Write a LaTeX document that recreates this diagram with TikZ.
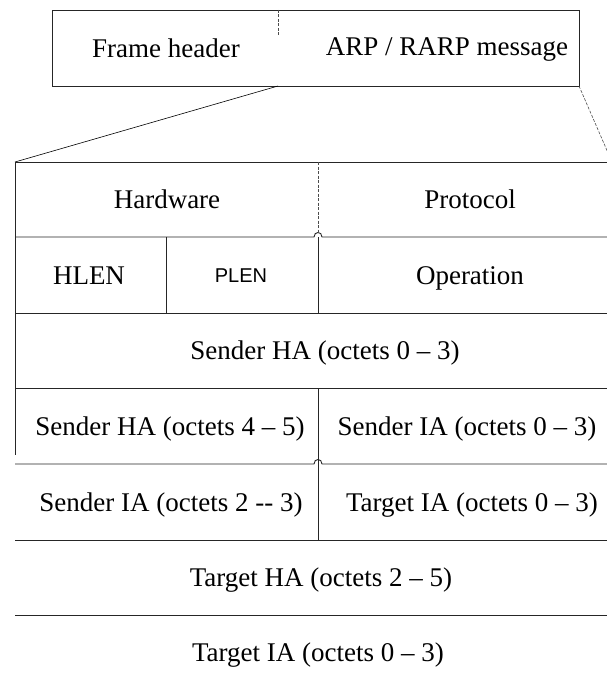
\documentclass[tikz,border=0pt]{standalone}
\usepackage{fontspec}
\setmainfont{Liberation Serif}
\newfontfamily\plenfont{Liberation Sans}
\begin{document}
\begin{tikzpicture}[x=1pt,y=-1pt,
  rule/.style={line width=0.9pt, black!85},
  faint/.style={line width=0.6pt, black!70, dash pattern=on 3pt off 1.5pt},
  lbl/.style={font=\fontsize{27}{30}\selectfont, inner sep=0pt, anchor=base, yshift=-9pt},
  slbl/.style={font=\plenfont\fontsize{20}{24}\selectfont, inner sep=0pt, anchor=base, yshift=-7pt}]
\useasboundingbox (0,0) rectangle (607,685);
% outer frame (top box)
\draw[rule] (52,10) rectangle (579,86);
\draw[faint] (278,10) -- (278,36);
\node[lbl] (fh) at (166,49) {Frame header};
\node[lbl] (arp) at (447,47) {ARP / RARP message};
% expansion lines
\coordinate (zl) at (278,86);
\coordinate (zr) at (579,86);
\coordinate (tl) at (15,162);
\coordinate (tr) at (612,162);
\draw[line width=0.6pt] (zl) -- (tl);
\draw[faint] (zr) -- (tr);
% table rules
\draw[rule] (tl) -- (tr);
\draw[rule] (15,162) -- (15,455);
\draw[rule] (15,237) -- (314,237) .. controls (314,231) and (322,231) .. (322,237) -- (612,237);
\draw[rule] (15,313) -- (612,313);
\draw[rule] (15,388) -- (612,388);
\draw[rule] (15,464) -- (314,464) .. controls (314,458) and (322,458) .. (322,464) -- (612,464);
\draw[rule] (15,540) -- (612,540);
\draw[rule] (15,615) -- (612,615);
\draw[faint] (318,162) -- (318,233);
\draw[rule] (318,237) -- (318,313);
\draw[rule] (318,388) -- (318,540);
\draw[rule] (166,237) -- (166,313);
% labels
\node[lbl] (hw) at (167,199) {Hardware};
\node[lbl] (pr) at (470,199) {Protocol};
\node[lbl] (hl) at (89,275) {HLEN};
\node[slbl] (pl) at (241,275) {PLEN};
\node[lbl] (op) at (470,275) {Operation};
\node[lbl] (sha03) at (325,350) {Sender HA (octets 0 -- 3)};
\node[lbl] (sha45) at (170,426) {Sender HA (octets 4 -- 5)};
\node[lbl] (sia03) at (467,426) {Sender IA (octets 0 -- 3)};
\node[lbl] (sia23) at (171,502) {Sender IA (octets 2 -{}- 3)};
\node[lbl] (tia03a) at (472,502) {Target IA (octets 0 -- 3)};
\node[lbl] (tha25) at (321,577) {Target HA (octets 2 -- 5)};
\node[lbl] (tia03b) at (318,652) {Target IA (octets 0 -- 3)};
\end{tikzpicture}
\end{document}
